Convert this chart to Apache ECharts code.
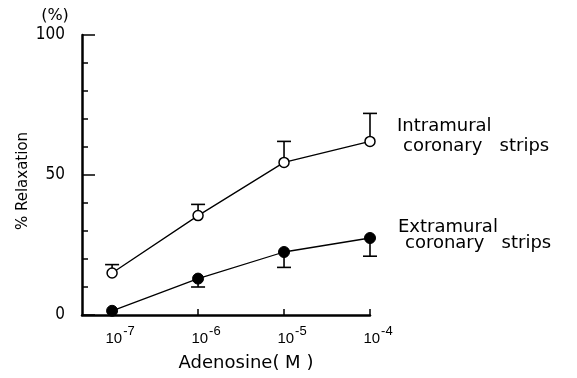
<!DOCTYPE html>
<html><head><meta charset="utf-8">
<script src="https://cdn.jsdelivr.net/npm/echarts@6/dist/echarts.min.js"></script>
<style>html,body{margin:0;padding:0;background:#fff}#c{width:577px;height:378px}</style>
</head><body><div id="c"></div>
<script>
// log10 of adenosine concentration (M)
const logConc = [-7, -6, -5, -4];
const xTickLabels = ['-7', '-6', '-5', '-4'];
const intramural = [15, 35.5, 54.5, 62];
const intramuralErrTop = [18, 39.5, 62, 72];
const extramural = [1.5, 13, 22.5, 27.5];
const extramuralErrBottom = [1.5, 10, 17, 21];
const yLabels = [0, 50, 100];

const FONT = 'DejaVu Sans';
const NUMFONT = '"Liberation Sans Narrow", "DejaVu Sans Condensed", "Liberation Sans"';
const chart = echarts.init(document.getElementById('c'));

function errSeries(vals, ends) {
  return {
    type: 'custom', z: 1, silent: true,
    data: logConc.map((x, i) => [x, vals[i], ends[i]]),
    renderItem: function (params, api) {
      const p0 = api.coord([api.value(0), api.value(1)]);
      const p1 = api.coord([api.value(0), api.value(2)]);
      if (Math.abs(p0[1] - p1[1]) < 2) return null;
      const st = { stroke: '#000', lineWidth: 1.6 };
      return { type: 'group', children: [
        { type: 'line', shape: { x1: p0[0], y1: p0[1], x2: p1[0], y2: p1[1] }, style: st },
        { type: 'line', shape: { x1: p1[0] - 7, y1: p1[1], x2: p1[0] + 7, y2: p1[1] }, style: st }
      ]};
    }
  };
}

function txt(x, y, s) {
  return { type: 'text', x: x, y: y, style: { text: s, fontFamily: FONT, fontSize: 18, fill: '#000', verticalAlign: 'middle' } };
}

chart.setOption({
  animation: false,
  backgroundColor: '#fff',
  grid: { left: 82, right: 207, top: 35, bottom: 63 },
  xAxis: {
    type: 'value', min: -7.35, max: -4,
    axisLine: { lineStyle: { color: '#000', width: 2.5 } },
    axisTick: { inside: true, length: 6, lineStyle: { color: '#000', width: 1.5 }, customValues: logConc },
    axisLabel: {
      customValues: logConc, margin: 10,
      formatter: function (v) { const i = logConc.indexOf(v); return '{b|10}{s|' + xTickLabels[i] + '}'; },
      rich: { b: { fontFamily: 'Liberation Sans', fontSize: 15, color: '#000', verticalAlign: 'bottom', padding: [0, 0, 0, 16] },
              s: { fontFamily: 'Liberation Sans', fontSize: 13, color: '#000', verticalAlign: 'top', padding: [0, 0, 8, 1] } }
    },
    splitLine: { show: false },
    name: 'Adenosine( M )', nameLocation: 'middle', nameGap: 39,
    nameTextStyle: { fontFamily: FONT, fontSize: 18, color: '#000', padding: [0, 0, 0, 40] }
  },
  yAxis: [
    {
      type: 'value', min: 0, max: 100, interval: 10,
      axisLine: { show: true, lineStyle: { color: '#000', width: 2.5 } },
      axisTick: { inside: true, length: 6, lineStyle: { color: '#000', width: 1.5 } },
      axisLabel: { show: false },
      splitLine: { show: false }
    },
    {
      type: 'value', min: 0, max: 100, interval: 50, position: 'left',
      axisLine: { show: false },
      axisTick: { inside: true, length: 13, lineStyle: { color: '#000', width: 1.5 } },
      axisLabel: { margin: 17, fontFamily: NUMFONT, fontSize: 17, color: '#000',
        customValues: yLabels },
      splitLine: { show: false }
    }
  ],
  series: [
    errSeries(intramural, intramuralErrTop),
    errSeries(extramural, extramuralErrBottom),
    {
      type: 'line', z: 3, data: logConc.map((x, i) => [x, intramural[i]]),
      symbol: 'circle', symbolSize: 10,
      lineStyle: { color: '#000', width: 1.3 },
      itemStyle: { color: '#fff', borderColor: '#000', borderWidth: 1.5 }
    },
    {
      type: 'line', z: 3, data: logConc.map((x, i) => [x, extramural[i]]),
      symbol: 'circle', symbolSize: 11,
      lineStyle: { color: '#000', width: 1.3 },
      itemStyle: { color: '#000', borderColor: '#000', borderWidth: 1 }
    }
  ],
  graphic: [
    { type: 'text', x: 55, y: 16, style: { text: '(%)', fontFamily: FONT, fontSize: 16, fill: '#000', align: 'center', verticalAlign: 'middle' } },
    { type: 'text', x: 23, y: 181, rotation: Math.PI / 2, style: { text: '% Relaxation', fontFamily: FONT, fontSize: 15, fill: '#000', align: 'center', verticalAlign: 'middle' } },
    txt(397, 126, 'Intramural'),
    txt(403, 146, 'coronary   strips'),
    txt(398, 227, 'Extramural'),
    txt(405, 243, 'coronary   strips')
  ]
});
</script></body></html>
